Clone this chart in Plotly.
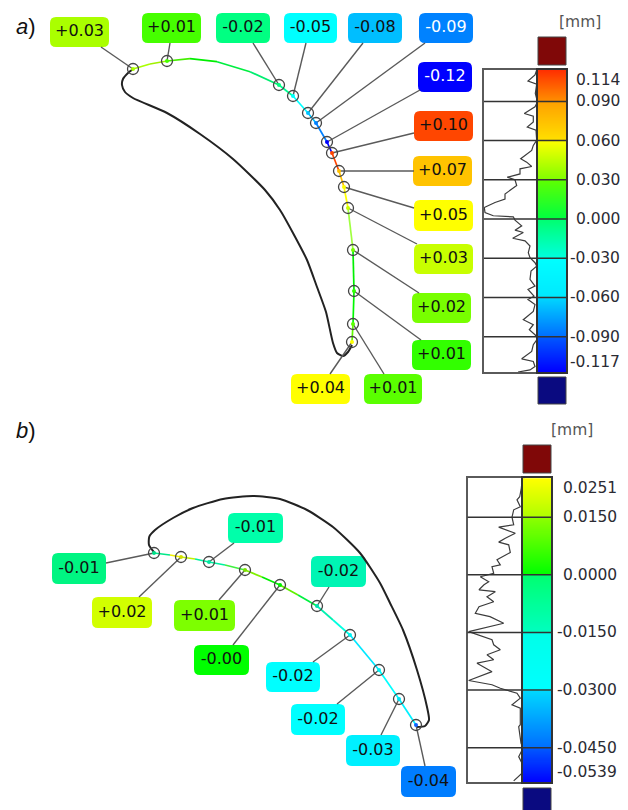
import numpy as np
import plotly.graph_objects as go

W, H = 628, 810
FONT = "DejaVu Sans"
INK = "#2b2b33"

# ---------- panel a: measured section ----------
a_outline_x = [133, 128, 123, 122, 125, 133, 167, 200, 233, 265, 280, 293, 307, 317, 326, 333, 337, 343, 348, 352]
a_outline_y = [69, 73, 79, 85, 92, 98, 113, 134, 159, 190, 210, 233, 260, 287, 312, 343, 353, 356, 352, 345]
a_curve_x = [133, 150, 167, 190, 217, 250, 279, 293, 308, 316, 327, 332, 339, 344, 348, 353, 354, 353, 352]
a_curve_y = [69, 64, 61, 58.7, 61.7, 71.7, 85, 96, 113, 123, 142, 153, 171, 187, 208, 250, 291, 324, 342]
a_curve_colors = ["#aaff00", "#a0f000", "#44ee00", "#00ee00", "#00ee40", "#00ee70", "#00ff90", "#00ffff",
                  "#00c0ff", "#0080ff", "#0000ff", "#ff4400", "#ffc000", "#ffff00", "#a0ff40", "#00f000",
                  "#00f800", "#60f800", "#e0ff00"]
a_point_x = [133, 167, 279, 293, 308, 316, 327, 332, 339, 344, 348, 353, 354, 353, 352]
a_point_y = [69, 61, 85, 96, 113, 123, 142, 153, 171, 187, 208, 250, 291, 324, 342]
a_point_colors = ["#aaff00", "#44ff00", "#00ff80", "#00ffff", "#00bfff", "#0080ff", "#0000ff", "#ff4400",
                  "#ffc000", "#ffff00", "#c8ff00", "#78ff00", "#32ff00", "#5aff00", "#ffff00"]
a_labels = ["+0.03", "+0.01", "-0.02", "-0.05", "-0.08", "-0.09", "-0.12", "+0.10",
            "+0.07", "+0.05", "+0.03", "+0.02", "+0.01", "+0.01", "+0.04"]
a_box_x0 = [50, 142, 216, 284, 348, 419, 418, 414, 413, 414, 414, 412, 412, 364, 291]
a_box_x1 = [109, 201, 270, 337, 402, 473, 472, 473, 472, 473, 473, 471, 471, 422, 350]
a_box_y0 = [17, 13, 13, 13, 13, 13, 62, 111, 156, 200, 244, 293, 340, 374, 374]
a_box_y1 = [47, 43, 43, 43, 43, 43, 92, 141, 186, 231, 274, 323, 370, 404, 404]
a_box_colors = ["#aaff00", "#46ff00", "#00ff82", "#00ffff", "#00beff", "#0082ff", "#0000ff", "#ff4600",
                "#ffc300", "#ffff00", "#c8ff00", "#78ff00", "#32ff00", "#5aff00", "#ffff00"]
a_text_colors = ["#111"] * 5 + ["#fff", "#fff"] + ["#111"] * 8
a_conn_x = [101, 170, 253, 306, 363, 425, 420, 414, 414, 414, 417, 419, 421, 384, 330]
a_conn_y = [47, 43, 43, 43, 43, 43, 90, 133, 171, 208, 244, 293, 340, 374, 374]

# ---------- panel b: measured section ----------
b_outline_x = [154.7, 149, 149.3, 155, 173, 193, 223, 253, 280, 307, 333, 360, 380, 390, 403, 417, 427, 429, 425, 417]
b_outline_y = [553, 545, 536.7, 530, 518, 508, 499, 496, 499, 510, 527, 553, 583, 603, 630, 670, 707, 720, 726, 727]
b_curve_x = [154, 170, 181, 195, 209, 225, 245, 262, 280, 298, 317, 333, 350, 379, 399, 416]
b_curve_y = [553, 555, 557, 559, 562, 565, 570, 577, 585, 595, 606, 620, 635, 670, 699, 725]
b_curve_colors = ["#00e888", "#f0f000", "#c0f000", "#00f0a0", "#00f0a0", "#40f040", "#80f000", "#00f000",
                  "#60f000", "#00f040", "#00f0b0", "#00ffe0", "#00e8ff", "#00ffff", "#00f0ff", "#0080ff"]
b_point_x = [154, 181, 209, 245, 280, 317, 350, 379, 399, 416]
b_point_y = [553, 557, 562, 570, 585, 606, 635, 670, 699, 725]
b_point_colors = ["#00e088", "#d2e000", "#00e8a0", "#7de000", "#00ee00", "#00e0b0", "#00f0f0", "#00f0f0",
                  "#00e0f0", "#1060ff"]
b_labels = ["-0.01", "+0.02", "-0.01", "+0.01", "-0.00", "-0.02", "-0.02", "-0.02", "-0.03", "-0.04"]
b_box_x0 = [52, 92, 228, 174, 194, 311, 266, 291, 346, 401]
b_box_x1 = [106, 152, 283, 235, 249, 366, 320, 345, 400, 456]
b_box_y0 = [553, 597, 513, 600, 645, 556, 662, 704, 735, 766]
b_box_y1 = [584, 628, 543, 631, 675, 587, 692, 735, 766, 797]
b_box_colors = ["#00f582", "#d2ff00", "#00ffaa", "#7dff00", "#00ff00", "#00f5b4", "#00ffff", "#00ffff",
                "#00f0ff", "#007dff"]
b_conn_x = [106, 139, 234, 219, 233, 329, 313, 337, 381, 425]
b_conn_y = [563, 597, 543, 600, 645, 587, 662, 704, 735, 766]

# ---------- scales ----------
a_min, a_max = -0.117, 0.114
a_grid = [0.090, 0.060, 0.030, 0.000, -0.030, -0.060, -0.090]
a_tick_labels = ["0.114", "0.090", "0.060", "0.030", "0.000", "-0.030", "-0.060", "-0.090", "-0.117"]
a_tick_at = [0.1063, 0.090, 0.060, 0.030, 0.000, -0.030, -0.060, -0.090, -0.1093]
a_scale_stops = [-0.117, -0.090, -0.090, -0.060, -0.060, -0.030, -0.030, 0.0, 0.0, 0.030, 0.030, 0.060, 0.060, 0.090, 0.090, 0.114]
a_scale_colors = ["#0000ff", "#005aff", "#006eff", "#00d8ff", "#00e8ff", "#00ffff", "#00ffe0", "#00ff70",
                  "#00ff40", "#60ff00", "#80ff00", "#ffff00", "#ffe000", "#ffa000", "#ff9000", "#ff3000"]

b_min, b_max = -0.0539, 0.0251
b_grid = [0.015, 0.000, -0.015, -0.030, -0.045]
b_tick_labels = ["0.0251", "0.0150", "0.0000", "-0.0150", "-0.0300", "-0.0450", "-0.0539"]
b_tick_at = [0.0225, 0.015, 0.000, -0.015, -0.030, -0.045, -0.0513]
b_scale_stops = [-0.0539, -0.045, -0.045, -0.030, -0.030, -0.015, -0.015, 0.0, 0.0, 0.015, 0.015, 0.0251]
b_scale_colors = ["#0000ff", "#005aff", "#006eff", "#00d8ff", "#00ffff", "#00ffe8", "#00ffc0", "#00ff70",
                  "#00ff00", "#90ff00", "#b0ff00", "#ffff00"]

# ---------- distribution profiles beside the scales ----------
a_prof_val = [.1140, .1102, .1055, .1032, .0961, .0896, .0858, .0807, .0786, .0742, .0704, .0679, .0602, .0563,
              .0525, .0461, .0435, .0402, .0384, .0345, .0320, .0300, .0256, .0192, .0153, .0127, .0089, .0050,
              .0025, .0017, -.0008, -.0052, -.0085, -.0103, -.0147, -.0167, -.0206, -.0257, -.0296, -.0334,
              -.0360, -.0398, -.0462, -.0513, -.0539, -.0590, -.0616, -.0654, -.0706, -.0770, -.0808, -.0847,
              -.0885, -.0911, -.0961, -.1013, -.1069, -.1090, -.1128, -.1154, -.1170]
a_prof_len = [1.3, 3, 10, 1.3, 2.7, .5, 3, 13.7, 4.7, 4.7, 10.7, 2, 1.3, 4.7,
              6.3, 17.3, 11.3, 6.3, 18, 18, 30.7, 23, 21.3, 33, 33, 43, 53.7, 53,
              44.7, 24.7, 23, 16.3, 23, 14.7, 25.3, 13, 8, 9.7, 8, 3,
              1.3, 7, 8, 3, 10, 4, 10, 3, 4.7, 14.7, 4.7, 8.7,
              3, 0, 4.7, 6.3, 16.3, 4.7, 3, 8, 20]

b_prof_val = [.0251, .0225, .0203, .0195, .0177, .0169, .0150, .0130, .0124, .0108, .0095, .0085, .0078, .0058,
              .0039, .0026, .0021, .0004, -.0005, -.0018, -.0026, -.0039, -.0044, -.0057, -.0070, -.0083, -.0100,
              -.0109, -.0126, -.0148, -.0169, -.0182, -.0195, -.0208, -.0221, -.0230, -.0252, -.0275, -.0286,
              -.0295, -.0308, -.0321, -.0338, -.0347, -.0390, -.0395, -.0438, -.0451, -.0473, -.0490, -.0516, -.0536]
b_prof_len = [.7, 1.7, 3.3, 6, 2.7, 9.3, 11, 9.3, 24.3, 7.7, 17.7, 24.3, 14.3, 12.7,
              26, 22.7, 31, 29.3, 42.7, 34.3, 39, 44, 27.7, 36, 29.3, 44, 47.7,
              33, 19.3, 54.3, 31, 29.3, 22.7, 36, 29.3, 46, 31, 54.3, 31,
              22.7, 6, 2.7, 11, 2.7, 2.7, 4.3, 2, 0, 4.3, 1, 1, 9.3]


def rounded(x0, y0, x1, y1, r=6):
    return (f"M{x0+r},{y0} L{x1-r},{y0} Q{x1},{y0} {x1},{y0+r} L{x1},{y1-r} Q{x1},{y1} {x1-r},{y1} "
            f"L{x0+r},{y1} Q{x0},{y1} {x0},{y1-r} L{x0},{y0+r} Q{x0},{y0} {x0+r},{y0} Z")


def colorscale(stops, colors):
    lo, hi = stops[0], stops[-1]
    return [[(s - lo) / (hi - lo), c] for s, c in zip(stops, colors)]


fig = go.Figure()
shapes = []
annotations = []


def add_section(outline_x, outline_y, curve_x, curve_y, curve_colors, px, py, pc,
                labels, bx0, bx1, by0, by1, bc, tc, cx, cy, conn_from):
    fig.add_trace(go.Scatter(x=outline_x, y=outline_y, mode="lines",
                             line=dict(color="#222", width=2, shape="spline", smoothing=0.6)))
    xs, ys = [], []
    for i, j in enumerate(conn_from):
        xs += [px[j], cx[i], None]
        ys += [py[j], cy[i], None]
    fig.add_trace(go.Scatter(x=xs, y=ys, mode="lines", line=dict(color="#5a5a5a", width=1.4)))
    for i in range(len(curve_x) - 1):
        fig.add_trace(go.Scatter(x=curve_x[i:i + 2], y=curve_y[i:i + 2], mode="lines",
                                 line=dict(color=curve_colors[i], width=1.7)))
    fig.add_trace(go.Scatter(x=px, y=py, mode="markers", marker=dict(color=pc, size=4)))
    fig.add_trace(go.Scatter(x=px, y=py, mode="markers",
                             marker=dict(symbol="circle-open", size=11, color="#444", line=dict(width=1.3, color="#444"))))
    for a, b, c, d, col in zip(bx0, bx1, by0, by1, bc):
        shapes.append(dict(type="path", path=rounded(a, c, b, d), fillcolor=col, line=dict(width=0),
                           xref="x", yref="y", layer="between"))
    fig.add_trace(go.Scatter(x=[(a + b) / 2 for a, b in zip(bx0, bx1)],
                             y=[(c + d) / 2 for c, d in zip(by0, by1)],
                             mode="text", text=labels, textposition="middle center",
                             textfont=dict(family=FONT, size=16, color=tc)))


add_section(a_outline_x, a_outline_y, a_curve_x, a_curve_y, a_curve_colors, a_point_x, a_point_y, a_point_colors,
            a_labels, a_box_x0, a_box_x1, a_box_y0, a_box_y1, a_box_colors, a_text_colors, a_conn_x, a_conn_y,
            [0, 1, 2, 3, 4, 5, 6, 7, 8, 9, 10, 11, 12, 13, 14])
add_section(b_outline_x, b_outline_y, b_curve_x, b_curve_y, b_curve_colors, b_point_x, b_point_y, b_point_colors,
            b_labels, b_box_x0, b_box_x1, b_box_y0, b_box_y1, b_box_colors, ["#111"] * 10, b_conn_x, b_conn_y,
            [0, 1, 2, 3, 4, 5, 6, 7, 8, 9])


def add_scale(n, xl, xm, xr, yt, yb, vmin, vmax, stops, colors, grid, tick_at, tick_text, pv, pl, len_max, label_x,
              unit_x, unit_y, swatch):
    hx, hy, bx, by = f"x{n}", f"y{n}", f"x{n+1}", f"y{n+1}"
    rows = np.linspace(vmin, vmax, 301)
    fig.add_trace(go.Heatmap(x=[0, 1], y=rows, z=[[v, v] for v in rows], zmin=vmin, zmax=vmax,
                             colorscale=colorscale(stops, colors), showscale=False, xaxis=bx, yaxis=by))
    fig.add_trace(go.Scatter(x=pl, y=pv, mode="lines", line=dict(color="#3c3c3c", width=1.2), xaxis=hx, yaxis=hy))
    ax = dict(showgrid=False, zeroline=False, showticklabels=False, ticks="", showline=True, mirror=True)
    fig.update_layout({
        f"xaxis{n}": dict(ax, domain=[xl / W, xm / W], range=[len_max, 0], anchor=hy, linecolor="#5a5a5a", linewidth=2),
        f"yaxis{n}": dict(ax, domain=[1 - yb / H, 1 - yt / H], range=[vmin, vmax], anchor=hx, linecolor="#5a5a5a", linewidth=2),
        f"xaxis{n+1}": dict(ax, domain=[xm / W, xr / W], range=[0, 1], anchor=by, linecolor="#333", linewidth=1.5),
        f"yaxis{n+1}": dict(ax, domain=[1 - yb / H, 1 - yt / H], range=[vmin, vmax], anchor=bx, linecolor="#333", linewidth=1.5),
    })
    for g in grid:
        shapes.append(dict(type="line", xref=f"{hx} domain", yref=hy, x0=0, x1=(xr - xl) / (xm - xl), y0=g, y1=g,
                           line=dict(color="#333", width=1.5)))
    for t, s in zip(tick_at, tick_text):
        annotations.append(dict(text=s, x=label_x / W, xref="paper", xanchor="right", y=t, yref=hy, yanchor="middle",
                                showarrow=False, font=dict(family=FONT, size=15.5, color=INK)))
    annotations.append(dict(text="[mm]", x=unit_x, y=unit_y, xref="x", yref="y", showarrow=False,
                            font=dict(family=FONT, size=15.5, color="#555")))
    for y0, y1, col in swatch:
        shapes.append(dict(type="rect", xref="x", yref="y", x0=xm, x1=xr, y0=y0, y1=y1, fillcolor=col,
                           line=dict(color="#444", width=1)))


add_scale(2, 484, 538, 566, 70, 372, a_min, a_max, a_scale_stops, a_scale_colors, a_grid, a_tick_at, a_tick_labels,
          a_prof_val, a_prof_len, 54, 622, 580, 22, [(37, 65, "#800808"), (377, 404, "#0a0a80")])
add_scale(4, 467.5, 523, 551, 478.3, 782, b_min, b_max, b_scale_stops, b_scale_colors, b_grid, b_tick_at, b_tick_labels,
          b_prof_val, b_prof_len, 55.5, 619, 572, 430, [(445, 473, "#800808"), (788, 816, "#0a0a80")])

for txt, y in (("<i>a</i>)", 26), ("<i>b</i>)", 430)):
    annotations.append(dict(text=txt, x=14, y=y, xref="x", yref="y", xanchor="left", showarrow=False,
                            font=dict(family="Liberation Sans", size=22, color="#111")))

fig.update_layout(
    width=W, height=H, autosize=False, margin=dict(l=0, r=0, t=0, b=0),
    paper_bgcolor="white", plot_bgcolor="white", showlegend=False, hovermode=False,
    xaxis=dict(domain=[0, 1], range=[0, W], visible=False, fixedrange=True),
    yaxis=dict(domain=[0, 1], range=[H, 0], visible=False, fixedrange=True),
    shapes=shapes, annotations=annotations,
)

fig.write_html("out.html", config={"displayModeBar": False},
               post_script="document.body.style.margin='0';document.body.style.overflow='hidden';")
